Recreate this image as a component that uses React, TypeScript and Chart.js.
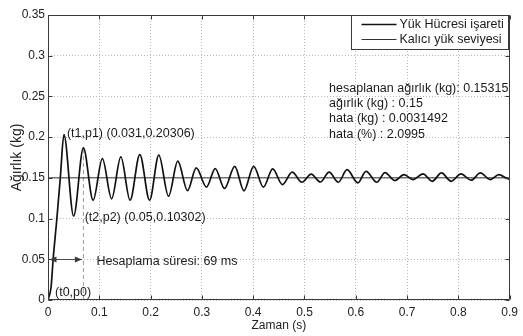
import { useEffect, useRef } from 'react';
import { Chart, registerables } from 'chart.js';

Chart.register(...registerables);

// ---- data ----
const riseTime = [0, 0.006, 0.01, 0.017, 0.024];
const riseWeight = [0, 0.016, 0.05, 0.098, 0.15];
const peakTime = [0.031, 0.069, 0.106, 0.142, 0.179, 0.216, 0.253, 0.289, 0.326, 0.364, 0.401, 0.438, 0.476, 0.513, 0.548, 0.583, 0.62, 0.657, 0.694, 0.731, 0.767, 0.805, 0.843, 0.879];
const peakWeight = [0.20306, 0.1868, 0.1737, 0.1757, 0.1786, 0.178, 0.1706, 0.1623, 0.1614, 0.1642, 0.1642, 0.161, 0.157, 0.1545, 0.157, 0.16, 0.158, 0.1565, 0.154, 0.155, 0.156, 0.155, 0.156, 0.154];
const troughTime = [0.05, 0.088, 0.124, 0.16, 0.198, 0.235, 0.272, 0.309, 0.344, 0.382, 0.42, 0.457, 0.495, 0.531, 0.566, 0.604, 0.641, 0.676, 0.712, 0.749, 0.786, 0.825, 0.862, 0.898];
const troughWeight = [0.10302, 0.1225, 0.1243, 0.1225, 0.1225, 0.1274, 0.1344, 0.1387, 0.1369, 0.1341, 0.1387, 0.1418, 0.1446, 0.1449, 0.1446, 0.1439, 0.1446, 0.1467, 0.1479, 0.1458, 0.1458, 0.1471, 0.1479, 0.1488];
const endTime = [0.9];
const endWeight = [0.149];

const steadyLevel = 0.15;
const calcTime = 0.069;
const calcMarkerTop = 0.187;
const arrowLevel = 0.05;

const xTickLabels = ['0', '0.1', '0.2', '0.3', '0.4', '0.5', '0.6', '0.7', '0.8', '0.9'];
const yTickLabels = ['0', '0.05', '0.1', '0.15', '0.2', '0.25', '0.3', '0.35'];
const seriesLabels = ['Yük Hücresi işareti', 'Kalıcı yük seviyesi'];
const xTitle = 'Zaman (s)';
const yTitle = 'Ağırlık (kg)';

const noteTexts = ['(t1,p1) (0.031,0.20306)', '(t2,p2) (0.05,0.10302)', '(t0,p0)'];
const noteTimes = [0.031, 0.05, 0];
const noteWeights = [0.20306, 0.10302, 0];
const calcLabel = 'Hesaplama süresi: 69 ms';
const resultLines = [
  'hesaplanan ağırlık (kg): 0.15315',
  'ağırlık (kg) : 0.15',
  'hata (kg) : 0.0031492',
  'hata (%) : 2.0995',
];
const resultAnchorTime = 0.548;
const resultAnchorWeight = 0.26;

const FONT = "'Liberation Sans', Arial, sans-serif";

function buildSignal() {
  const pts: { x: number; y: number }[] = [];
  riseTime.forEach((t, i) => pts.push({ x: t, y: riseWeight[i] }));
  peakTime.forEach((t, i) => pts.push({ x: t, y: peakWeight[i] }));
  troughTime.forEach((t, i) => pts.push({ x: t, y: troughWeight[i] }));
  endTime.forEach((t, i) => pts.push({ x: t, y: endWeight[i] }));
  const seen = new Set<number>();
  return pts
    .sort((a, b) => a.x - b.x)
    .filter((p) => (seen.has(p.x) ? false : (seen.add(p.x), true)));
}

const framePlugin = {
  id: 'frameTicks',
  afterDraw(chart: any) {
    const { ctx, chartArea } = chart;
    const { left, right, top, bottom } = chartArea;
    const xs = chart.scales.x;
    const ys = chart.scales.y;
    ctx.save();
    ctx.strokeStyle = '#3a3a3a';
    ctx.lineWidth = 1;
    ctx.beginPath();
    const L = Math.round(left) + 0.5, R = Math.round(right) - 0.5;
    const T = Math.round(top) + 0.5, B = Math.round(bottom) - 0.5;
    ctx.rect(L, T, R - L, B - T);
    const tl = 4;
    xs.ticks.forEach((tk: any) => {
      const x = Math.round(xs.getPixelForValue(tk.value)) + 0.5;
      ctx.moveTo(x, B); ctx.lineTo(x, B - tl);
      ctx.moveTo(x, T); ctx.lineTo(x, T + tl);
    });
    ys.ticks.forEach((tk: any) => {
      const y = Math.round(ys.getPixelForValue(tk.value)) + 0.5;
      ctx.moveTo(L, y); ctx.lineTo(L + tl, y);
      ctx.moveTo(R, y); ctx.lineTo(R - tl, y);
    });
    ctx.stroke();
    ctx.restore();
  },
};

const notesPlugin = {
  id: 'notes',
  afterDatasetsDraw(chart: any) {
    const { ctx } = chart;
    const xs = chart.scales.x;
    const ys = chart.scales.y;
    const noteOffsets = [[3, -1], [11, 1], [7, -7]];
    ctx.save();
    ctx.font = `12.5px ${FONT}`;
    ctx.fillStyle = '#1a1a1a';
    ctx.textBaseline = 'middle';
    ctx.textAlign = 'left';
    noteTexts.forEach((txt, i) => {
      const x = xs.getPixelForValue(noteTimes[i]) + noteOffsets[i][0];
      const y = ys.getPixelForValue(noteWeights[i]) + noteOffsets[i][1];
      ctx.fillText(txt, x, y);
    });

    // double arrow for calculation time
    const ay = Math.round(ys.getPixelForValue(arrowLevel)) + 0.5;
    const ax0 = xs.getPixelForValue(0) + 1.5;
    const ax1 = xs.getPixelForValue(calcTime) - 1.5;
    ctx.strokeStyle = '#4a4a4a';
    ctx.fillStyle = '#3a3a3a';
    ctx.lineWidth = 1;
    ctx.beginPath();
    ctx.moveTo(ax0, ay); ctx.lineTo(ax1, ay);
    ctx.stroke();
    const ah = 7, aw = 3;
    ctx.beginPath();
    ctx.moveTo(ax0, ay); ctx.lineTo(ax0 + ah, ay - aw); ctx.lineTo(ax0 + ah, ay + aw); ctx.closePath();
    ctx.fill();
    ctx.beginPath();
    ctx.moveTo(ax1, ay); ctx.lineTo(ax1 - ah, ay - aw); ctx.lineTo(ax1 - ah, ay + aw); ctx.closePath();
    ctx.fill();

    ctx.fillStyle = '#1a1a1a';
    ctx.fillText(calcLabel, xs.getPixelForValue(calcTime) + 13, ay + 2);

    const rx = xs.getPixelForValue(resultAnchorTime);
    const ry = ys.getPixelForValue(resultAnchorWeight);
    resultLines.forEach((line, i) => ctx.fillText(line, rx, ry + i * 15.3));
    ctx.restore();
  },
};

const legendPlugin = {
  id: 'boxLegend',
  afterDraw(chart: any) {
    const { ctx, chartArea } = chart;
    const right = Math.round(chartArea.right) - 1.5;
    const top = Math.round(chartArea.top) + 0.5;
    const w = 157, h = 34;
    const left = right - w;
    ctx.save();
    ctx.fillStyle = '#ffffff';
    ctx.fillRect(left, top, w, h);
    ctx.strokeStyle = '#3a3a3a';
    ctx.lineWidth = 1;
    ctx.strokeRect(left, top, w, h);
    ctx.font = `12.5px ${FONT}`;
    ctx.textBaseline = 'middle';
    ctx.textAlign = 'left';
    const rows = [top + 8, top + 23];
    chart.data.datasets.slice(0, 2).forEach((ds: any, i: number) => {
      const y = Math.round(rows[i]) + 0.5;
      ctx.strokeStyle = ds.borderColor;
      ctx.lineWidth = i === 0 ? 1.6 : 1;
      ctx.beginPath();
      ctx.moveTo(left + 10, y);
      ctx.lineTo(left + 45, y);
      ctx.stroke();
      ctx.fillStyle = '#1a1a1a';
      ctx.fillText(ds.label, left + 48, y);
    });
    ctx.restore();
  },
};

export default function App() {
  const ref = useRef<HTMLCanvasElement>(null);
  useEffect(() => {
    document.body.style.margin = '0';
    const canvas = ref.current!;
    const chart = new Chart(canvas, {
      type: 'line',
      data: {
        datasets: [
          {
            label: seriesLabels[0],
            data: buildSignal(),
            borderColor: '#111111',
            borderWidth: 1.7,
            pointRadius: 0,
            cubicInterpolationMode: 'monotone',
            fill: false,
          },
          {
            label: seriesLabels[1],
            data: [
              { x: 0, y: steadyLevel },
              { x: 0.9, y: steadyLevel },
            ],
            borderColor: '#333333',
            borderWidth: 1,
            pointRadius: 0,
            fill: false,
          },
          {
            label: 'marker',
            data: [
              { x: calcTime, y: 0 },
              { x: calcTime, y: calcMarkerTop },
            ],
            borderColor: '#9a9a9a',
            borderWidth: 1,
            borderDash: [4, 3],
            pointRadius: 0,
            fill: false,
          },
        ],
      } as any,
      options: {
        responsive: false,
        animation: false,
        devicePixelRatio: 1,
        layout: { padding: { left: 0, right: 9, top: 15, bottom: 0 } },
        plugins: { legend: { display: false }, tooltip: { enabled: false } },
        scales: {
          x: {
            type: 'linear',
            min: 0,
            max: 0.9,
            afterFit: (s: any) => { s.height = 36; },
            ticks: {
              stepSize: 0.1,
              padding: 5,
              color: '#222',
              font: { family: FONT, size: 12 },
              callback: (_v: any, i: number) => xTickLabels[i],
            },
            grid: { color: '#b8b8b8', lineWidth: 1, drawTicks: false },
            border: { display: false, dash: [1, 2] },
            title: { display: true, text: xTitle, color: '#222', font: { family: FONT, size: 12 }, padding: { top: 0, bottom: 3 } },
          },
          y: {
            type: 'linear',
            min: 0,
            max: 0.35,
            afterFit: (s: any) => { s.width = 48; },
            ticks: {
              stepSize: 0.05,
              padding: 3,
              color: '#222',
              font: { family: FONT, size: 12 },
              callback: (_v: any, i: number) => yTickLabels[i],
            },
            grid: { color: '#b8b8b8', lineWidth: 1, drawTicks: false },
            border: { display: false, dash: [1, 2] },
            title: { display: true, text: yTitle, color: '#222', font: { family: FONT, size: 14 }, padding: { top: 9, bottom: 0 } },
          },
        },
      } as any,
      plugins: [framePlugin, notesPlugin, legendPlugin],
    });
    return () => chart.destroy();
  }, []);
  return (
    <div style={{ width: 523, height: 336, position: 'relative' }}>
      <canvas ref={ref} width={523} height={336} />
    </div>
  );
}
